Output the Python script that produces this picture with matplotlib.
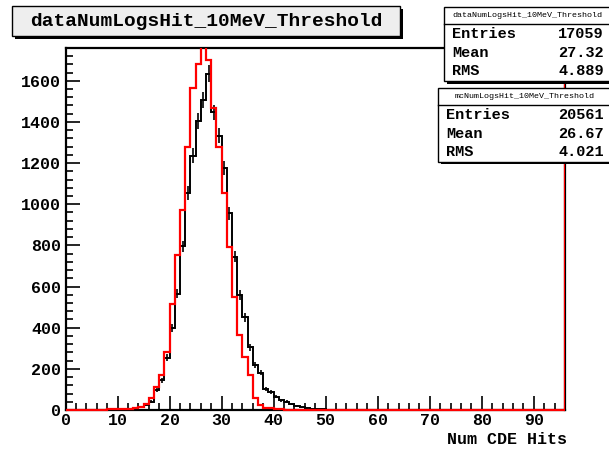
import matplotlib
matplotlib.use("Agg")
import matplotlib.pyplot as plt
import numpy as np
from matplotlib.patches import Rectangle
from matplotlib.ticker import MultipleLocator

# ---------------------------
# Histogram contents (1 hit per bin, 0..96)
# ---------------------------
bin_edges = np.arange(0, 97)

data_counts = [
    0, 0, 0, 1, 1, 1, 1, 1, 2, 2,
    2, 3, 4, 8, 15, 25, 40, 97, 145, 255,
    400, 566, 795, 1055, 1236, 1405, 1505, 1635, 1446, 1333,
    1175, 955, 745, 558, 450, 305, 220, 182, 100, 89,
    65, 48, 40, 28, 19, 13, 8, 5, 4, 3,
    2, 2, 1, 1, 1, 0, 1, 0, 0, 0,
] + [0] * 36

# MC, normalised to the data entries
mc_counts = [
    0, 0, 0, 0, 1, 1, 2, 2, 3, 3,
    4, 5, 6, 10, 15, 30, 60, 110, 170, 283,
    517, 751, 970, 1277, 1563, 1681, 1770, 1700, 1470, 1280,
    1054, 792, 549, 364, 259, 170, 60, 25, 12, 8,
    5, 3, 2, 1, 1, 1, 0, 0, 0, 0,
] + [0] * 46

title = "dataNumLogsHit_10MeV_Threshold"
x_label = "Num CDE Hits"
data_name = "dataNumLogsHit_10MeV_Threshold"
data_stats = [("Entries", "17059"), ("Mean", "27.32"), ("RMS", "4.889")]
mc_name = "mcNumLogsHit_10MeV_Threshold"
mc_stats = [("Entries", "20561"), ("Mean", "26.67"), ("RMS", "4.021")]

W, H = 609, 449
FONT = "Liberation Mono"
plt.rcParams["font.family"] = [FONT, "DejaVu Sans"]
plt.rcParams["font.weight"] = "bold"


def fx(x):
    return x / W


def fy(y):
    return 1 - y / H


def shadow_box(fig, x0, y0, x1, y1, face="white", off=3):
    """Box in pixel coords (top-left origin) with a ROOT style drop shadow."""
    fig.patches.append(Rectangle((fx(x0 + off), fy(y1 + off)), fx(x1 - x0), (y1 - y0) / H,
                                 transform=fig.transFigure, facecolor="black",
                                 edgecolor="none", zorder=5))
    fig.patches.append(Rectangle((fx(x0), fy(y1)), fx(x1 - x0), (y1 - y0) / H,
                                 transform=fig.transFigure, facecolor=face,
                                 edgecolor="black", linewidth=1.0, zorder=6))


def stats_box(fig, x0, y0, name, rows):
    x1 = W + 10
    row_h = 18.5
    head_h = 17
    y1 = y0 + head_h + row_h * len(rows) + 1
    shadow_box(fig, x0, y0, x1, y1)
    fig.text(fx((x0 + W) / 2 + 1), fy(y0 + head_h / 2), name, fontsize=6,
             weight="normal", ha="center", va="center", zorder=7)
    fig.add_artist(plt.Line2D([fx(x0), fx(x1)], [fy(y0 + head_h)] * 2,
                              transform=fig.transFigure, color="black", lw=1.0, zorder=7))
    for i, (k, v) in enumerate(rows):
        yc = y0 + head_h + row_h * (i + 0.5) + 1
        fig.text(fx(x0 + 8), fy(yc), k, fontsize=11, ha="left", va="center", zorder=7)
        fig.text(fx(W - 5), fy(yc), v, fontsize=11, ha="right", va="center", zorder=7)


fig = plt.figure(figsize=(W / 100, H / 100), dpi=100)
fig.patch.set_facecolor("white")

ax_l, ax_r, ax_t, ax_b = 65.5, 565, 48, 410
ax = fig.add_axes([fx(ax_l), fy(ax_b), fx(ax_r - ax_l), (ax_b - ax_t) / H])

data = np.array(data_counts, dtype=float)
mc = np.array(mc_counts, dtype=float)
centers = 0.5 * (bin_edges[:-1] + bin_edges[1:])

# clip at the top of the frame only, so the empty bins stay visible on the x axis
clip = Rectangle((0, -0.02), 1.0, 1.02, transform=ax.transAxes)

# data: outline plus sqrt(N) error bars
h_data = ax.stairs(data, bin_edges, color="black", lw=1.4, baseline=None, zorder=3)
err = np.sqrt(data)
ax.vlines(centers, data - err, data + err, color="black", lw=1.2, zorder=3)

# MC overlay
h_mc = ax.stairs(mc, bin_edges, color="red", lw=1.6, baseline=None, zorder=4)
ax.axvline(bin_edges[-1], color="red", lw=1.6, zorder=4)
for h in (h_data, h_mc):
    h.set_clip_path(clip)

ymax = (data + err).max() * 1.05
ax.set_xlim(bin_edges[0], bin_edges[-1])
ax.set_ylim(0, ymax)

for s in ax.spines.values():
    s.set_linewidth(1.6)

ax.xaxis.set_major_locator(MultipleLocator(10))
ax.xaxis.set_minor_locator(MultipleLocator(2))
ax.yaxis.set_major_locator(MultipleLocator(200))
ax.yaxis.set_minor_locator(MultipleLocator(40))
ax.tick_params(which="both", direction="in", top=False, right=False, width=1.2,
               labelsize=12)
ax.tick_params(which="major", length=10)
ax.tick_params(which="minor", length=5)
ax.tick_params(axis="x", pad=2)
ax.tick_params(axis="y", pad=3)

fig.text(fx(ax_r + 2), fy(440), x_label, fontsize=12, ha="right", va="center")

# title box
shadow_box(fig, 12, 6, 400, 36, face="#eeeeee")
fig.text(fx(206), fy(21), title, fontsize=14, ha="center", va="center", zorder=7)

# stat boxes
stats_box(fig, 444, 7, data_name, data_stats)
stats_box(fig, 438, 88, mc_name, mc_stats)

fig.savefig("out.png", dpi=100)
